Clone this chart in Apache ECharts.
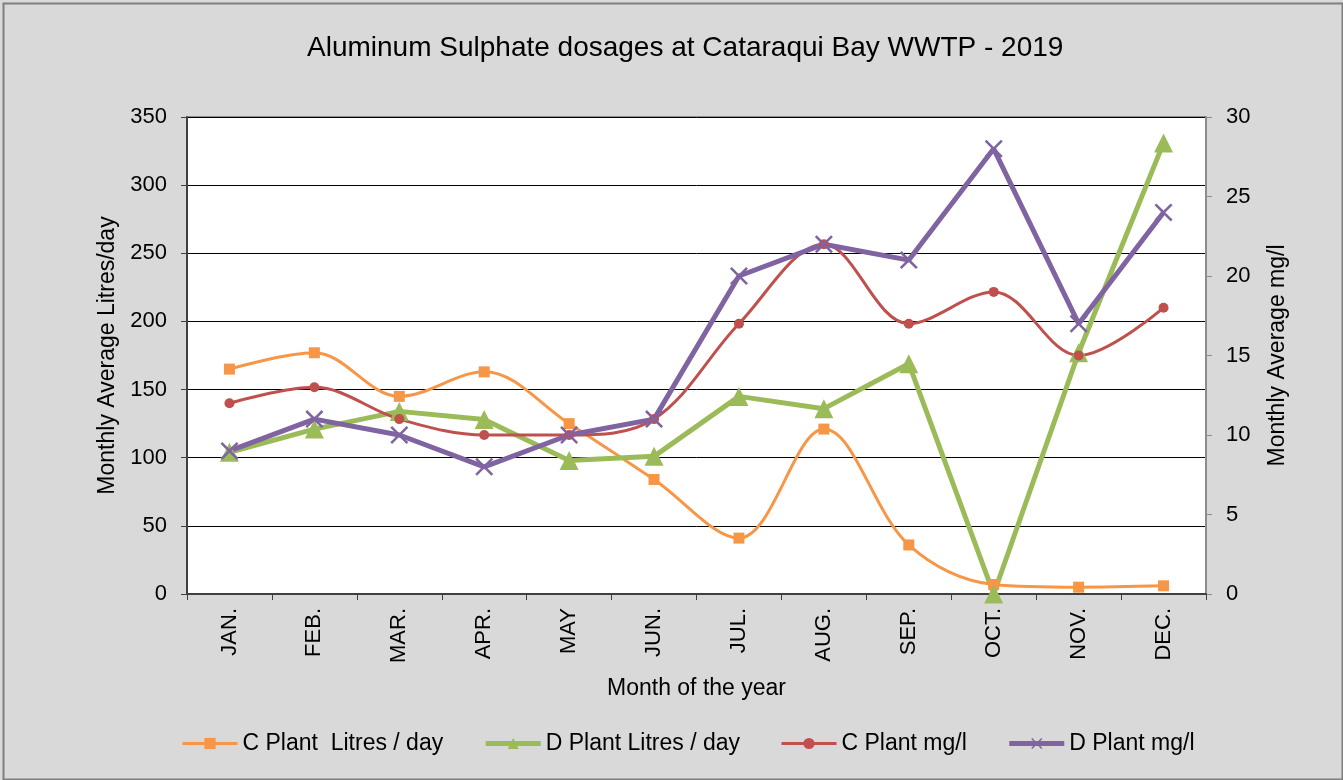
<!DOCTYPE html>
<html>
<head>
<meta charset="utf-8">
<script src="https://cdn.jsdelivr.net/npm/echarts@6/dist/echarts.min.js"></script>
<style>
html,body{margin:0;padding:0;background:#d9d9d9;}
#chart{width:1343px;height:780px;}
</style>
</head>
<body>
<div id="chart"></div>
<script>
const months = ['JAN.','FEB.','MAR.','APR.','MAY','JUN.','JUL.','AUG.','SEP.','OCT.','NOV.','DEC.'];
const cPlantLitres = [165, 177, 145, 163, 125, 84, 41, 121, 36, 7, 5, 6];
const dPlantLitres = [104, 121, 134, 128, 98, 101, 145, 136, 169, 0, 177, 331];
const cPlantMgl = [12, 13, 11, 10, 10, 11, 17, 22, 17, 19, 15, 18];
const dPlantMgl = [9, 11, 10, 8, 10, 11, 20, 22, 21, 28, 17, 24];
const seriesNames = ['C Plant  Litres / day', 'D Plant Litres / day', 'C Plant mg/l', 'D Plant mg/l'];

const font = 'Liberation Sans, Arial, sans-serif';
const crossPath = 'path://M0,1 L1,0 L5,4 L9,0 L10,1 L6,5 L10,9 L9,10 L5,6 L1,10 L0,9 L4,5 Z';
const lineWidths = [3, 5, 3, 5];
const colors = ['#f79646', '#9bbb59', '#c0504d', '#8064a2'];

const chart = echarts.init(document.getElementById('chart'));
chart.setOption({
  backgroundColor: '#d9d9d9',
  animation: false,
  textStyle: {fontFamily: font},
  title: {
    text: 'Aluminum Sulphate dosages at Cataraqui Bay WWTP - 2019',
    left: 302, top: 29,
    textStyle: {fontFamily: font, fontSize: 28, fontWeight: 'normal', color: '#000'}
  },
  graphic: [{
    type: 'rect', left: 1, top: 1, silent: true,
    shape: {width: 1339, height: 776},
    style: {fill: 'none', stroke: '#7f7f7f', lineWidth: 2}
  }],
  legend: {
    bottom: 20, left: 176,
    itemWidth: 55, itemHeight: 14, itemGap: 40,
    textStyle: {fontFamily: font, fontSize: 23, color: '#000'},
    data: seriesNames.map((n, i) => ({name: n, lineStyle: {width: lineWidths[i], color: colors[i]}}))
  },
  grid: {
    left: 187, right: 137, top: 117, bottom: 186,
    show: true, backgroundColor: '#ffffff', borderColor: '#8c8c8c', borderWidth: 2
  },
  xAxis: {
    type: 'category', data: months, boundaryGap: true,
    name: 'Month of the year', nameLocation: 'middle', nameGap: 83,
    nameTextStyle: {fontFamily: font, fontSize: 23, color: '#000'},
    axisLine: {lineStyle: {color: '#404040', width: 2}},
    axisTick: {show: true, alignWithLabel: false, length: 6, lineStyle: {color: '#404040'}},
    axisLabel: {rotate: 90, fontFamily: font, fontSize: 22, color: '#000', margin: 14}
  },
  yAxis: [{
    type: 'value', min: 0, max: 350, interval: 50, position: 'left',
    name: 'Monthly Average Litres/day', nameLocation: 'middle', nameGap: 62, nameRotate: 90,
    nameTextStyle: {fontFamily: font, fontSize: 23, color: '#000'},
    axisLine: {show: true, lineStyle: {color: '#404040', width: 2}},
    axisTick: {show: true, length: 6, lineStyle: {color: '#404040'}},
    axisLabel: {fontFamily: font, fontSize: 22, color: '#000', margin: 20},
    splitLine: {show: true, lineStyle: {color: '#000', width: 1}}
  }, {
    type: 'value', min: 0, max: 30, interval: 5, position: 'right',
    name: 'Monthly Average mg/l', nameLocation: 'middle', nameGap: 60, nameRotate: 90,
    nameTextStyle: {fontFamily: font, fontSize: 23, color: '#000'},
    axisLine: {show: true, lineStyle: {color: '#8c8c8c', width: 2}},
    axisTick: {show: true, length: 6, lineStyle: {color: '#8c8c8c'}},
    axisLabel: {fontFamily: font, fontSize: 22, color: '#000', margin: 20},
    splitLine: {show: false}
  }],
  series: [{
    name: seriesNames[0], type: 'line', yAxisIndex: 0, data: cPlantLitres,
    smooth: 0.35, symbol: 'rect', symbolSize: 11,
    lineStyle: {color: colors[0], width: lineWidths[0]},
    itemStyle: {color: colors[0]}
  }, {
    name: seriesNames[1], type: 'line', yAxisIndex: 0, data: dPlantLitres,
    symbol: 'triangle', symbolSize: 19,
    lineStyle: {color: colors[1], width: lineWidths[1]},
    itemStyle: {color: colors[1]}
  }, {
    name: seriesNames[2], type: 'line', yAxisIndex: 1, data: cPlantMgl,
    smooth: 0.35, symbol: 'circle', symbolSize: 10,
    lineStyle: {color: colors[2], width: lineWidths[2]},
    itemStyle: {color: colors[2]}
  }, {
    name: seriesNames[3], type: 'line', yAxisIndex: 1, data: dPlantMgl,
    symbol: crossPath, symbolSize: 18,
    lineStyle: {color: colors[3], width: lineWidths[3]},
    itemStyle: {color: colors[3]}
  }]
});
</script>
</body>
</html>
